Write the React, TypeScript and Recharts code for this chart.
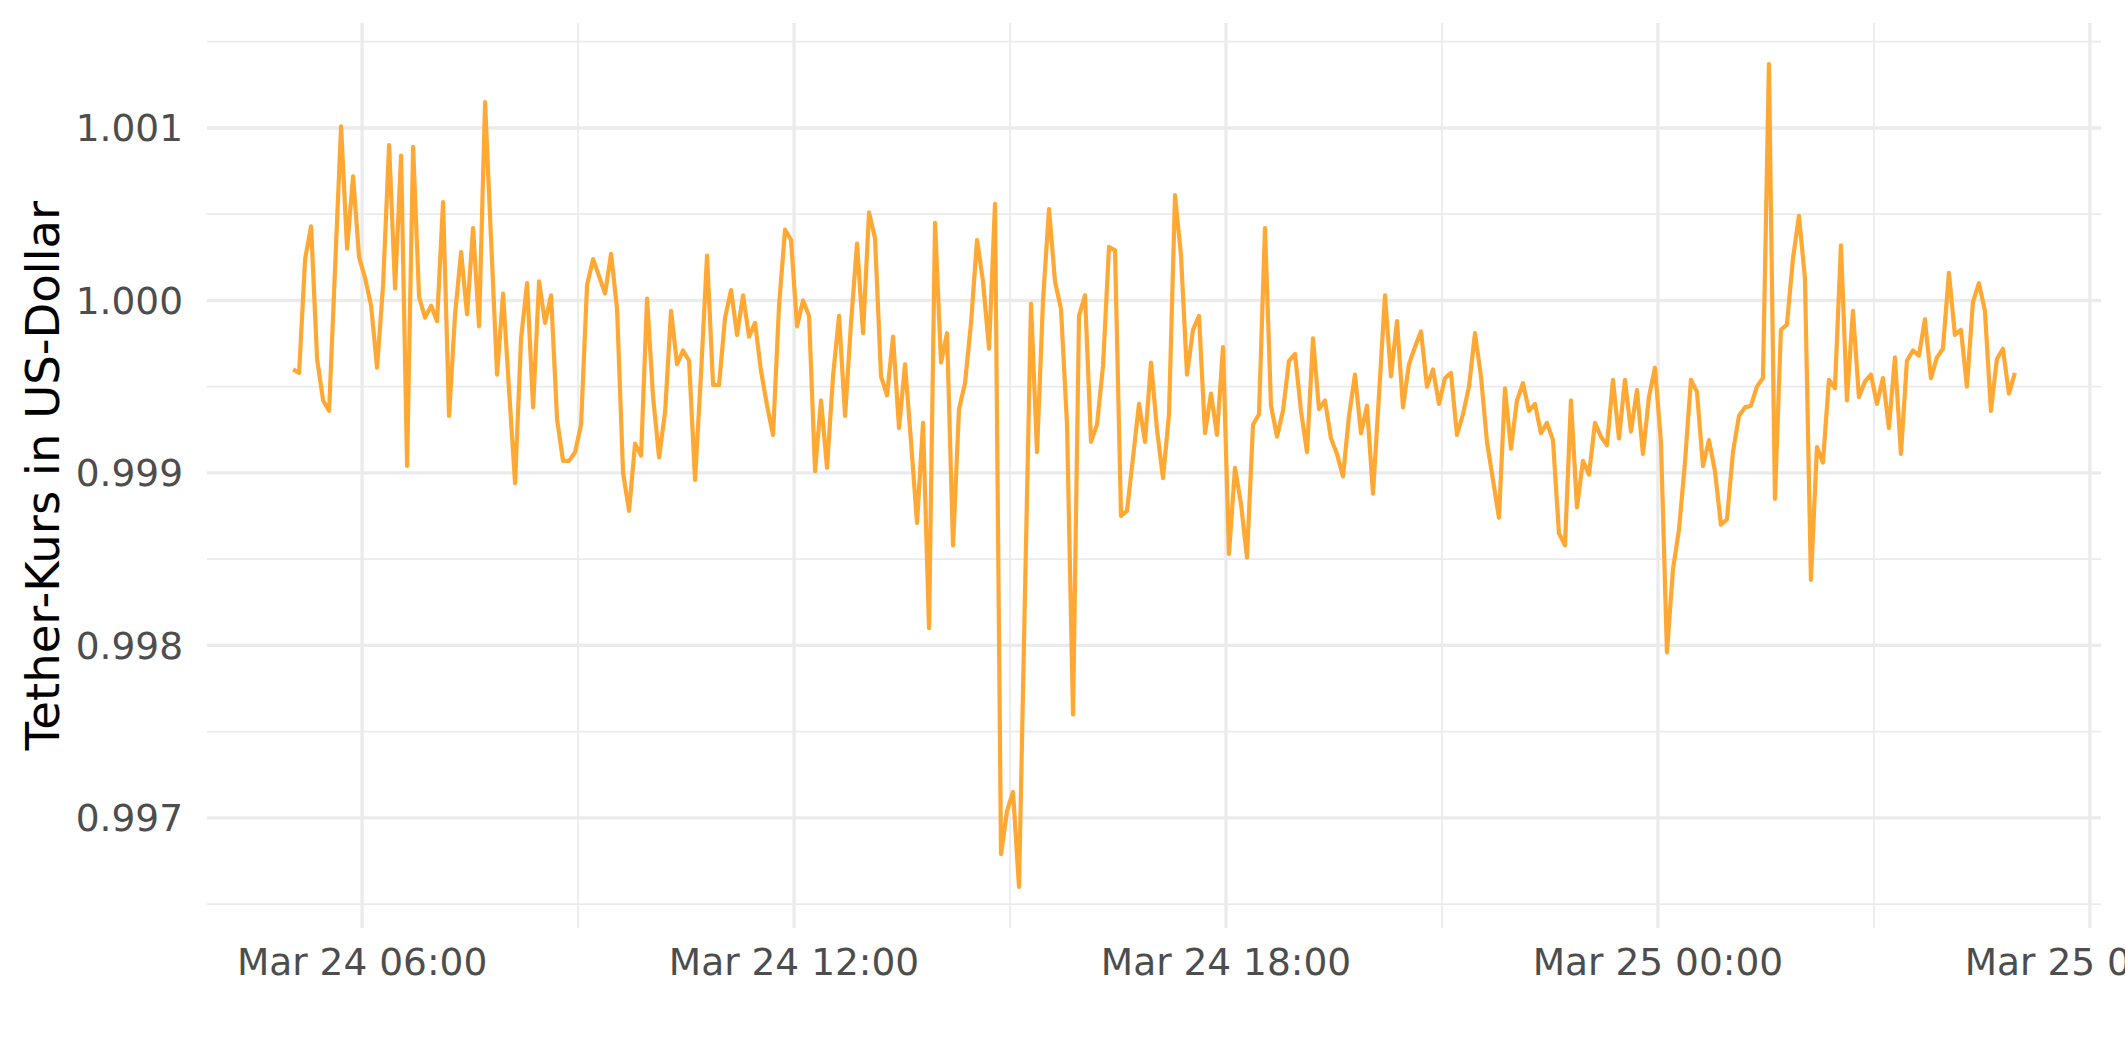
import React from 'react';
import { LineChart, Line, XAxis, YAxis, CartesianGrid } from 'recharts';

// Tether price in USD, one sample every 5 minutes, Mar 24 05:02 -> Mar 25 04:57
const START_HOUR = 5 + 2.5 / 60; // hours after Mar 24 00:00
const STEP_MINUTES = 5;

// 05:02 - 08:57
const pricesA = [
  0.99960, 0.99958, 1.00024, 1.00043, 0.99966, 0.99942, 0.99936, 1.00019, 1.00101, 1.00030, 1.00072, 1.00025,
  1.00013, 0.99997, 0.99961, 1.00009, 1.00090, 1.00007, 1.00084, 0.99904, 1.00089, 1.00002, 0.99990, 0.99997,
  0.99988, 1.00057, 0.99933, 0.99992, 1.00028, 0.99992, 1.00042, 0.99985, 1.00115, 1.00035, 0.99957, 1.00004,
  0.99948, 0.99894, 0.99978, 1.00010, 0.99938, 1.00011, 0.99987, 1.00003, 0.99931, 0.99907, 0.99907, 0.99912,
];
// 09:02 - 12:57
const pricesB = [
  0.99928, 1.00009, 1.00024, 1.00014, 1.00004, 1.00027, 0.99995, 0.99900, 0.99878, 0.99917, 0.99910, 1.00001,
  0.99944, 0.99909, 0.99935, 0.99994, 0.99963, 0.99971, 0.99965, 0.99896, 0.99958, 1.00026, 0.99951, 0.99951,
  0.99990, 1.00006, 0.99980, 1.00003, 0.99979, 0.99987, 0.99959, 0.99939, 0.99922, 0.99997, 1.00041, 1.00035,
  0.99985, 1.00000, 0.99991, 0.99901, 0.99942, 0.99903, 0.99956, 0.99991, 0.99933, 0.99987, 1.00033, 0.99981,
];
// 13:02 - 16:57
const pricesC = [
  1.00051, 1.00036, 0.99956, 0.99945, 0.99979, 0.99926, 0.99963, 0.99918, 0.99871, 0.99929, 0.99810, 1.00045,
  0.99964, 0.99981, 0.99858, 0.99937, 0.99952, 0.99987, 1.00035, 1.00011, 0.99972, 1.00056, 0.99679, 0.99704,
  0.99715, 0.99660, 0.99831, 0.99998, 0.99912, 1.00000, 1.00053, 1.00011, 0.99995, 0.99928, 0.99760, 0.99991,
  1.00003, 0.99918, 0.99928, 0.99962, 1.00031, 1.00029, 0.99875, 0.99878, 0.99909, 0.99940, 0.99918, 0.99964,
];
// 17:02 - 20:57
const pricesD = [
  0.99925, 0.99897, 0.99934, 1.00061, 1.00026, 0.99957, 0.99983, 0.99991, 0.99923, 0.99946, 0.99922, 0.99973,
  0.99853, 0.99903, 0.99882, 0.99851, 0.99928, 0.99934, 1.00042, 0.99939, 0.99921, 0.99936, 0.99965, 0.99969,
  0.99936, 0.99912, 0.99978, 0.99937, 0.99942, 0.99920, 0.99911, 0.99898, 0.99933, 0.99957, 0.99923, 0.99939,
  0.99888, 0.99945, 1.00003, 0.99956, 0.99988, 0.99938, 0.99963, 0.99973, 0.99982, 0.99950, 0.99960, 0.99940,
];
// 21:02 - 00:57
const pricesE = [
  0.99955, 0.99958, 0.99922, 0.99934, 0.99950, 0.99981, 0.99956, 0.99918, 0.99896, 0.99874, 0.99949, 0.99914,
  0.99942, 0.99952, 0.99936, 0.99940, 0.99923, 0.99929, 0.99919, 0.99865, 0.99858, 0.99942, 0.99880, 0.99907,
  0.99899, 0.99929, 0.99921, 0.99916, 0.99954, 0.99920, 0.99954, 0.99924, 0.99948, 0.99911, 0.99944, 0.99961,
  0.99918, 0.99796, 0.99844, 0.99867, 0.99906, 0.99954, 0.99947, 0.99904, 0.99919, 0.99901, 0.99870, 0.99873,
];
// 01:02 - 04:57
const pricesF = [
  0.99912, 0.99933, 0.99938, 0.99939, 0.99950, 0.99955, 1.00137, 0.99885, 0.99983, 0.99986, 1.00024, 1.00049,
  1.00013, 0.99838, 0.99915, 0.99906, 0.99954, 0.99949, 1.00032, 0.99942, 0.99994, 0.99944, 0.99953, 0.99957,
  0.99940, 0.99955, 0.99926, 0.99967, 0.99911, 0.99965, 0.99971, 0.99968, 0.99989, 0.99955, 0.99967, 0.99972,
  1.00016, 0.99980, 0.99983, 0.99950, 0.99999, 1.00010, 0.99994, 0.99936, 0.99966, 0.99972, 0.99946, 0.99958,
];

const xTicks = [6, 12, 18, 24, 30];
const xMinorTicks = [9, 15, 21, 27];
const yTicks = [0.997, 0.998, 0.999, 1.0, 1.001];
const yMinorTicks = [0.9965, 0.9975, 0.9985, 0.9995, 1.0005, 1.0015];

const prices = [...pricesA, ...pricesB, ...pricesC, ...pricesD, ...pricesE, ...pricesF];
const data = prices.map((price, i) => ({ t: START_HOUR + (i * STEP_MINUTES) / 60, price }));

// ggplot-style 5% expansion on both scales
const expand = (lo: number, hi: number): [number, number] => {
  const pad = (hi - lo) * 0.05;
  return [lo - pad, hi + pad];
};
const xDomain = expand(data[0].t, data[data.length - 1].t);
const yDomain = expand(Math.min(...prices), Math.max(...prices));

const pad2 = (n: number) => String(n).padStart(2, '0');
const formatTime = (h: number) => {
  const day = h >= 24 ? 25 : 24;
  const hh = Math.floor(h % 24);
  const mm = Math.round((h - Math.floor(h)) * 60);
  return `Mar ${day} ${pad2(hh)}:${pad2(mm)}`;
};

const FONT = '"DejaVu Sans", sans-serif';
const GRID = '#EBEBEB';
const tickStyle = { fill: '#4D4D4D', fontSize: 37.5, fontFamily: FONT };

export default function App() {
  return (
    <div style={{ width: 2125, height: 1062, background: '#fff' }}>
      <style>{`body { margin: 0; }`}</style>
      <LineChart
        width={2125}
        height={1062}
        data={data}
        margin={{ top: 23, right: 24, bottom: 0, left: 0 }}
      >
        <CartesianGrid
          horizontalValues={yMinorTicks}
          verticalValues={xMinorTicks}
          stroke={GRID}
          strokeWidth={1.7}
        />
        <CartesianGrid
          horizontalValues={yTicks}
          verticalValues={xTicks}
          stroke={GRID}
          strokeWidth={3.4}
        />
        <XAxis
          dataKey="t"
          type="number"
          domain={xDomain}
          ticks={xTicks}
          interval={0}
          tickFormatter={formatTime}
          axisLine={false}
          tickLine={false}
          tickSize={0}
          tickMargin={20}
          height={134}
          tick={tickStyle}
        />
        <YAxis
          type="number"
          domain={yDomain}
          ticks={yTicks}
          interval={0}
          tickFormatter={(v: number) => v.toFixed(3)}
          axisLine={false}
          tickLine={false}
          tickSize={0}
          tickMargin={24}
          width={207}
          tick={tickStyle}
          label={{
            value: 'Tether-Kurs in US-Dollar',
            angle: -90,
            position: 'insideLeft',
            offset: 42,
            style: { textAnchor: 'middle', fontSize: 46.5, fill: '#000', fontFamily: FONT },
          }}
        />
        <Line
          type="linear"
          dataKey="price"
          stroke="#FFA834"
          strokeWidth={4.2}
          strokeLinejoin="round"
          dot={false}
          isAnimationActive={false}
        />
      </LineChart>
    </div>
  );
}
